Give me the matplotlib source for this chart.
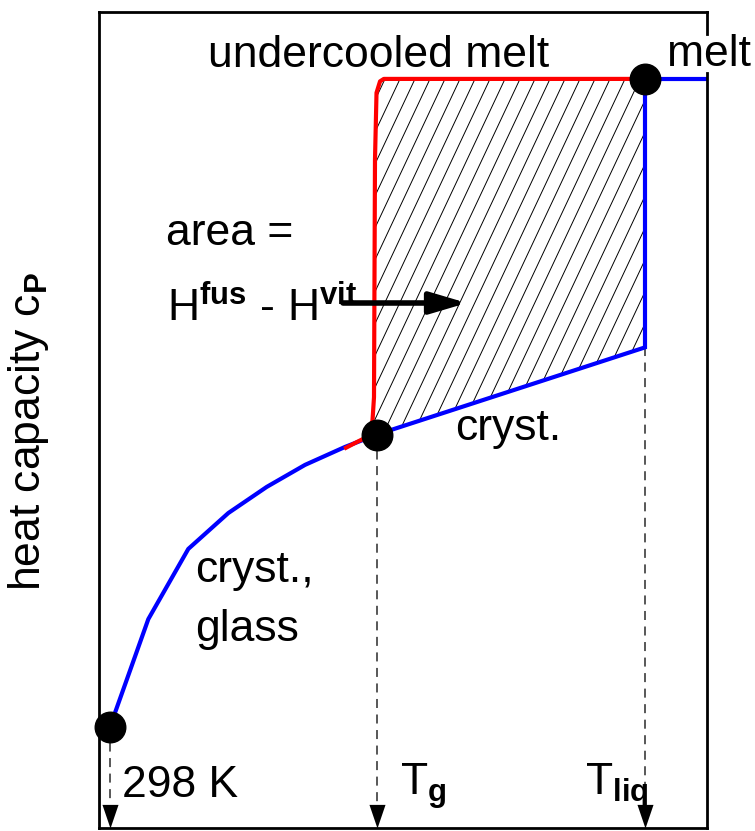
import numpy as np
import matplotlib
matplotlib.use("Agg")
import matplotlib.pyplot as plt
from matplotlib.patches import Polygon
from matplotlib.collections import LineCollection
from matplotlib.path import Path

plt.rcParams["font.family"] = ["Liberation Sans", "DejaVu Sans"]
plt.rcParams["mathtext.fontset"] = "custom"
plt.rcParams["mathtext.rm"] = "Liberation Sans"
plt.rcParams["mathtext.bf"] = "Liberation Sans:bold"
plt.rcParams["mathtext.it"] = "Liberation Sans:italic"

# ---- schematic data: temperature (K) and heat capacity (arbitrary units) ----
T_room = 298
T_g = 700
T_liq = 1105

# crystal / glass branch from room temperature up to T_liq
cryst_T = [298, 355.8, 416.1, 476.5, 534.4, 592.2, 652.5, 700, 1105]
cryst_cp = [12.4, 25.6, 34.2, 38.6, 41.8, 44.5, 46.7, 48.2, 58.9]

# melt (stable liquid above T_liq)
melt_T = [1105, 1105, 1198.5]
melt_cp = [58.9, 91.8, 91.8]

# glass transition and undercooled melt branch
under_T = [654, 668, 682.7, 690.2, 694.0, 696.2, 697.7, 700, 705.3, 711, 1105]
under_cp = [46.6, 47.2, 47.8, 48.5, 50.0, 52.8, 81.9, 90.1, 91.5, 91.8, 91.8]

marker_T = [T_room, T_g, T_liq]
marker_cp = [12.4, 48.2, 91.8]
drop_from_cp = [12.4, 48.2, 58.9]

W, H = 755, 831
fig = plt.figure(figsize=(W / 100, H / 100), dpi=100)
left_px, right_px, top_px, bottom_px = 99, 707, 12, 828
ax = fig.add_axes([left_px / W, 1 - bottom_px / H,
                   (right_px - left_px) / W, (bottom_px - top_px) / H])
ax.set_xlim(281.4, 1198.5)
ax.set_ylim(0, 100)
ax.set_xticks([])
ax.set_yticks([])

frame_lw = 2.0
for side in ["left", "top", "bottom"]:
    ax.spines[side].set_linewidth(frame_lw)
ax.spines["right"].set_visible(False)
# right frame edge, interrupted behind the "melt" label
gap_lo = (bottom_px - 73) / (bottom_px - top_px)
gap_hi = (bottom_px - 34) / (bottom_px - top_px)
for y0, y1 in [(0, gap_lo), (gap_hi, 1)]:
    ax.plot([1, 1], [y0, y1], transform=ax.transAxes, color="black",
            lw=frame_lw, clip_on=False, solid_capstyle="projecting", zorder=5)

def fig_xy(px, py):
    return px / W, 1 - py / H

# hatched area between undercooled melt and crystal
i0 = 3
upper = list(zip(under_T[i0:], under_cp[i0:]))
lower = [(melt_T[0], melt_cp[0]), (T_g, 48.2)]
region = upper + lower
patch = Polygon(region, closed=True, facecolor="none", edgecolor="none")
ax.add_patch(patch)

fig.canvas.draw()
disp = ax.transData.transform(np.array(region))
xmin, ymin = disp.min(axis=0)
xmax, ymax = disp.max(axis=0)
slope = 0.47  # horizontal run per unit rise (pixels)
spacing = 15.0
h = ymax - ymin
segs = []
x = xmin - slope * h - spacing
while x < xmax + spacing:
    p0 = (x, ymin)
    p1 = (x + slope * h, ymax)
    segs.append(ax.transData.inverted().transform(np.array([p0, p1])))
    x += spacing
hatch = LineCollection(segs, colors="black", linewidths=0.7, zorder=2)
ax.add_collection(hatch)
hatch.set_clip_path(patch)

# curves
ax.plot(cryst_T, cryst_cp, color="#0000ff", lw=3, zorder=3,
        solid_joinstyle="round", solid_capstyle="butt")
ax.plot(melt_T, melt_cp, color="#0000ff", lw=3, zorder=3,
        solid_joinstyle="miter")
ax.plot(under_T, under_cp, color="#ff0000", lw=3, zorder=4,
        solid_joinstyle="round")

# dashed drop lines with arrow heads to the temperature axis
for t, c in zip(marker_T, drop_from_cp):
    ax.plot([t, t], [c, 3], color="#4a4a4a", lw=1.3,
            linestyle=(0, (5, 3.6)), zorder=2)
head = Path([(-0.34, 1), (0.34, 1), (0, 0), (-0.34, 1)],
            [Path.MOVETO, Path.LINETO, Path.LINETO, Path.CLOSEPOLY])
ax.plot(marker_T, [0] * len(marker_T), linestyle="none", marker=head,
        markersize=34, color="black", markeredgewidth=0, clip_on=False,
        zorder=6)

# state points
ax.plot(marker_T, marker_cp, linestyle="none", marker="o", markersize=22,
        color="black", zorder=7, clip_on=False)

fs = 32
fig.text(*fig_xy(208, 66.7), "undercooled melt", fontsize=fs,
         ha="left", va="baseline")
fig.text(*fig_xy(667, 66), "melt", fontsize=fs, ha="left", va="baseline")
fig.text(*fig_xy(166, 245), "area =", fontsize=fs, ha="left", va="baseline")
fig.text(*fig_xy(167, 321), r"H$^{\mathbf{fus}}$ - H$^{\mathbf{vit}}$",
         fontsize=fs, ha="left", va="baseline")
fig.text(*fig_xy(455, 440), "cryst.", fontsize=fs, ha="left", va="baseline")
fig.text(*fig_xy(195, 582), "cryst.,", fontsize=fs, ha="left", va="baseline")
fig.text(*fig_xy(195, 641), "glass", fontsize=fs, ha="left", va="baseline")
fig.text(*fig_xy(122, 797), "298 K", fontsize=fs, ha="left", va="baseline")
fig.text(*fig_xy(400, 795), r"T$_{\mathbf{g}}$", fontsize=fs,
         ha="left", va="baseline")
fig.text(*fig_xy(585, 795), r"T$_{\mathbf{liq}}$", fontsize=fs,
         ha="left", va="baseline")
fig.text(*fig_xy(29, 432), r"heat capacity c$_{\mathbf{P}}$", fontsize=fs,
         rotation=90, ha="center", va="center")

ax.annotate("", xy=fig_xy(467, 303), xytext=fig_xy(343, 303),
            xycoords="figure fraction", textcoords="figure fraction",
            arrowprops=dict(arrowstyle="-|>,head_length=2.2,head_width=0.65",
                            lw=4, color="black", shrinkA=0, shrinkB=0,
                            mutation_scale=10),
            zorder=8)

fig.savefig("out.png", dpi=100)
